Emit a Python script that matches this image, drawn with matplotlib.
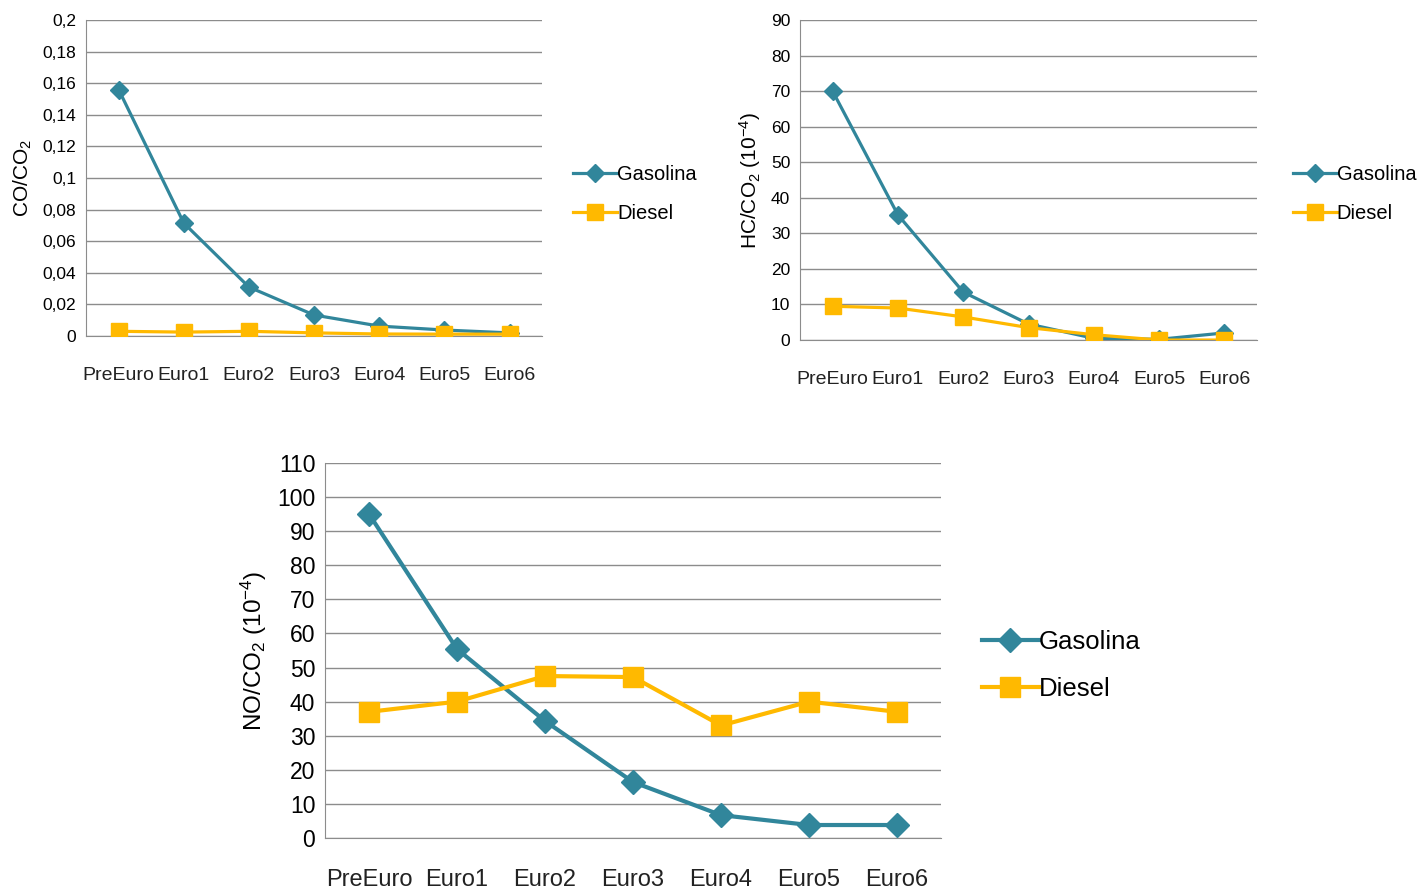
import matplotlib.pyplot as plt
from matplotlib.ticker import FuncFormatter

plt.rcParams['font.family'] = ['Liberation Sans', 'DejaVu Sans']
plt.rcParams['mathtext.default'] = 'regular'

stages = ['PreEuro', 'Euro1', 'Euro2', 'Euro3', 'Euro4', 'Euro5', 'Euro6']
series_names = ['Gasolina', 'Diesel']

co_gasolina = [0.156, 0.0715, 0.031, 0.0133, 0.0063, 0.0038, 0.002]
co_diesel = [0.003, 0.0025, 0.003, 0.002, 0.0013, 0.0012, 0.0012]

hc_gasolina = [70.0, 35.2, 13.5, 4.5, 0.5, 0.2, 2.0]
hc_diesel = [9.5, 9.0, 6.5, 3.5, 1.5, 0.0, 0.0]

no_gasolina = [95.0, 55.4, 34.3, 16.4, 6.7, 3.8, 3.8]
no_diesel = [37.0, 40.0, 47.5, 47.2, 33.0, 40.0, 37.0]

TEAL = '#31869B'
GOLD = '#FFB900'
GRID = '#8c8c8c'


def comma_fmt(v, pos):
    return ('%g' % round(v, 4)).replace('.', ',')


def draw(ax, gas, die, ymax, ystep, ylabel, yfs, xfs, lfs, ms, lw, xpad,
         leg_anchor, leg_fs, leg_space, fmt=None):
    x = range(len(stages))
    ax.plot(x, gas, color=TEAL, lw=lw, marker='D', ms=ms * 0.85, label=series_names[0], zorder=3)
    ax.plot(x, die, color=GOLD, lw=lw, marker='s', ms=ms, label=series_names[1], zorder=4)
    ax.set_xlim(-0.5, len(stages) - 0.5)
    ax.set_ylim(0, ymax)
    ticks = [i * ystep for i in range(int(round(ymax / ystep)) + 1)]
    ax.set_yticks(ticks)
    if fmt is not None:
        ax.yaxis.set_major_formatter(FuncFormatter(fmt))
    ax.set_xticks(list(x))
    ax.set_xticklabels(stages)
    ax.grid(axis='y', color=GRID, lw=1)
    ax.set_axisbelow(True)
    for s in ['top', 'right']:
        ax.spines[s].set_visible(False)
    ax.spines['left'].set_color(GRID)
    ax.spines['bottom'].set_color(GRID)
    ax.tick_params(axis='x', length=0, pad=xpad, labelsize=xfs, colors='#222222')
    ax.tick_params(axis='y', length=0, pad=7, labelsize=yfs)
    ax.set_ylabel(ylabel, fontsize=lfs, labelpad=6)
    ax.legend(loc='center left', bbox_to_anchor=leg_anchor, frameon=False,
              fontsize=leg_fs, handlelength=2.2, handletextpad=0.0,
              labelspacing=leg_space, borderaxespad=0)


fig = plt.figure(figsize=(14.27, 8.89), dpi=100)

ax1 = fig.add_axes([0.0603, 0.622, 0.3196, 0.3555])
draw(ax1, co_gasolina, co_diesel, 0.2, 0.02, 'CO/CO$_2$', 12.5, 14, 15, 11, 2.3, 22,
     (1.05, 0.45), 14.5, 1.0, fmt=comma_fmt)

ax2 = fig.add_axes([0.5606, 0.6175, 0.3203, 0.36])
draw(ax2, hc_gasolina, hc_diesel, 90, 10, 'HC/CO$_2$ (10$^{-4}$)', 12.5, 14, 15, 11, 2.3, 22,
     (1.06, 0.455), 14.5, 1.0)

ax3 = fig.add_axes([0.2278, 0.0574, 0.4317, 0.4218])
draw(ax3, no_gasolina, no_diesel, 110, 10, 'NO/CO$_2$ (10$^{-4}$)', 16.5, 17, 17.5, 14, 3, 22,
     (1.05, 0.46), 18.5, 0.9)

fig.savefig('out.png', dpi=100)
